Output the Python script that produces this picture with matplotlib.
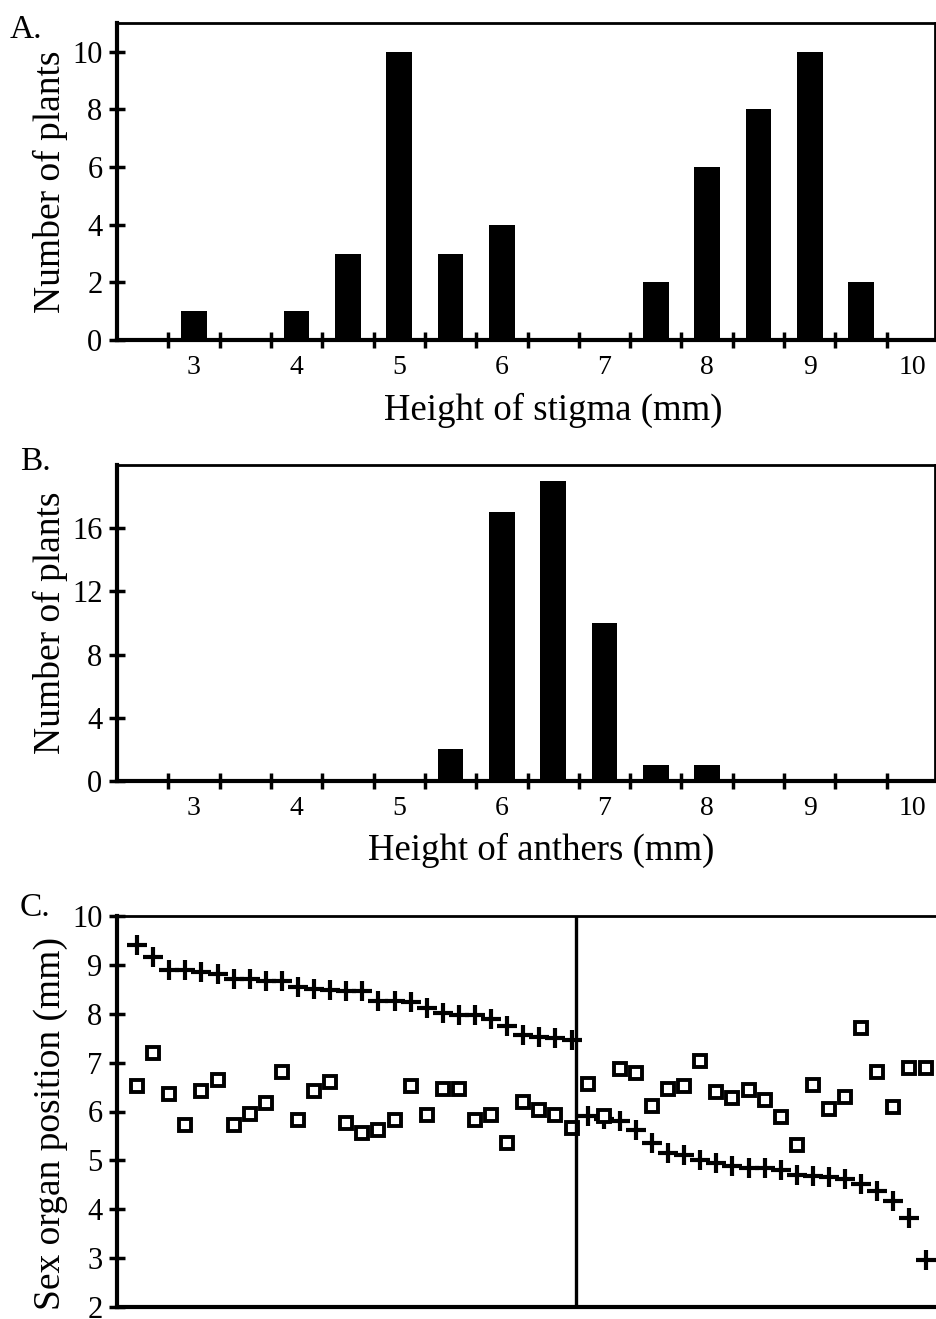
import numpy as np
import matplotlib
matplotlib.use("Agg")
import matplotlib.pyplot as plt

plt.rcParams['font.family'] = ['Liberation Serif', 'DejaVu Serif']

# histogram bins (mm) and counts
bins = [3, 3.5, 4, 4.5, 5, 5.5, 6, 6.5, 7, 7.5, 8, 8.5, 9, 9.5]
stigma_counts = [1, 0, 1, 3, 10, 3, 4, 0, 0, 2, 6, 8, 10, 2]
anther_counts = [0, 0, 0, 0, 0, 2, 17, 19, 10, 1, 1, 0, 0, 0]
int_ticks = [3, 4, 5, 6, 7, 8, 9, 10]

# panel C: plants sorted by stigma height, long-styled group then short-styled group
long_stigma = [9.41, 9.16, 8.90, 8.90, 8.86, 8.82, 8.71, 8.71, 8.68, 8.66, 8.54, 8.50,
               8.48, 8.47, 8.47, 8.27, 8.27, 8.25, 8.12, 8.01, 7.98, 7.98, 7.89, 7.74,
               7.57, 7.52, 7.50, 7.47]
long_anther = [6.52, 7.20, 6.36, 5.73, 6.41, 6.65, 5.73, 5.94, 6.18, 6.81, 5.82, 6.41,
               6.60, 5.77, 5.56, 5.62, 5.82, 6.52, 5.92, 6.46, 6.46, 5.82, 5.92, 5.36,
               6.19, 6.03, 5.92, 5.67]
short_stigma = [5.90, 5.84, 5.80, 5.63, 5.36, 5.16, 5.10, 5.01, 4.95, 4.88, 4.85, 4.85,
                4.80, 4.71, 4.68, 4.67, 4.61, 4.52, 4.37, 4.17, 3.83, 2.96]
short_anther = [6.57, 5.90, 6.86, 6.78, 6.12, 6.46, 6.53, 7.03, 6.39, 6.28, 6.43, 6.24,
                5.89, 5.31, 6.55, 6.06, 6.30, 7.71, 6.80, 6.10, 6.89, 6.89]

W, H = 936, 1319
fig = plt.figure(figsize=(W / 100, H / 100), dpi=100)


def box(left, top, right, bottom):
    return [left / W, 1 - bottom / H, (right - left) / W, (bottom - top) / H]


def hist_panel(ax, counts, ymax, yticks, xlabel, xlab_x):
    ax.bar(bins, counts, width=0.25, color='black')
    ax.set_xlim(2.25, 10.22)
    ax.set_ylim(0, ymax)
    ax.set_yticks(yticks)
    ax.set_xticks(int_ticks)
    ax.set_xticks(np.arange(2.75, 10, 0.5), minor=True)
    ax.tick_params(axis='x', which='major', length=0, pad=11, labelsize=20)
    ax.tick_params(axis='x', which='minor', direction='inout', length=11, width=2.5)
    ax.tick_params(axis='y', direction='inout', length=11, width=2.5, pad=5, labelsize=22)
    for s in ['left', 'bottom']:
        ax.spines[s].set_linewidth(3)
    for s in ['top', 'right']:
        ax.spines[s].set_linewidth(2)
    ax.set_ylabel('Number of plants', fontsize=27, labelpad=3)
    ax.set_xlabel(xlabel, fontsize=26.5)
    ax.xaxis.set_label_coords(xlab_x, -0.165)


axA = fig.add_axes(box(117, 23, 935, 340))
hist_panel(axA, stigma_counts, 11, [0, 2, 4, 6, 8, 10], 'Height of stigma (mm)', 0.533)
axB = fig.add_axes(box(117, 465, 935, 781))
hist_panel(axB, anther_counts, 20, [0, 4, 8, 12, 16], 'Height of anthers (mm)', 0.518)

# panel C
axC = fig.add_axes(box(117, 916, 940, 1307))
n_long = len(long_stigma)
x_long = np.arange(1, n_long + 1)
x_short = np.arange(n_long + 1, n_long + len(short_stigma) + 1)
axC.plot(x_long, long_stigma, '+', color='black', ms=14, mew=3)
axC.plot(x_short, short_stigma, '+', color='black', ms=14, mew=3)
axC.plot(x_long, long_anther, 's', mfc='white', mec='black', ms=8.5, mew=2.8)
axC.plot(x_short, short_anther, 's', mfc='white', mec='black', ms=8.5, mew=2.8)
axC.axvline(n_long + 0.25, color='black', lw=2.4)
axC.set_xlim(-0.25, 50.9)
axC.set_ylim(2, 10)
axC.set_yticks(range(2, 11))
axC.set_xticks([])
axC.tick_params(axis='y', direction='inout', length=11, width=2.5, pad=5, labelsize=22)
for s in ['left', 'bottom']:
    axC.spines[s].set_linewidth(3)
axC.spines['top'].set_linewidth(2)
axC.spines['right'].set_visible(False)
axC.set_ylabel('Sex organ position (mm)', fontsize=27, labelpad=3)
axC.yaxis.label.set_y(0.47)

fig.text(10 / W, 1 - 38 / H, 'A.', fontsize=24)
fig.text(20 / W, 1 - 470 / H, 'B.', fontsize=24)
fig.text(20 / W, 1 - 916 / H, 'C.', fontsize=24)

fig.savefig('out.png', dpi=100)
